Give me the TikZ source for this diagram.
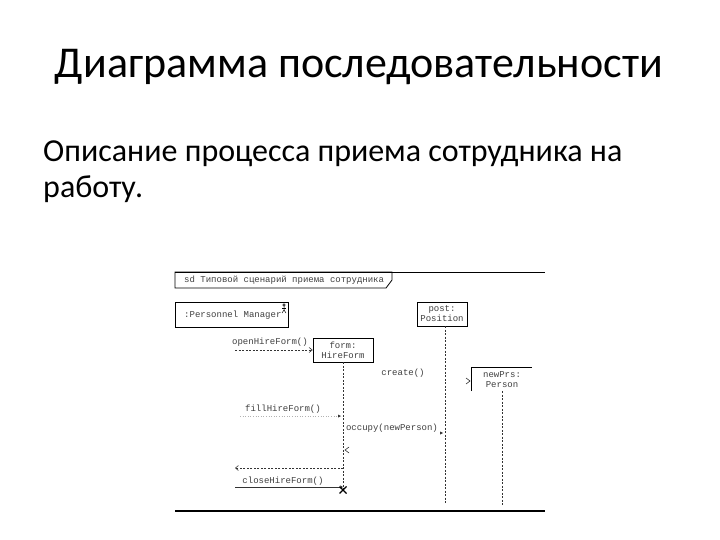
\documentclass[tikz,border=0pt]{standalone}
\usepackage{fontspec}
\setmainfont{Carlito}
\newfontfamily\umlfont{Liberation Mono}
\usetikzlibrary{arrows.meta,calc}
\begin{document}
\begin{tikzpicture}[x=1pt,y=-1pt,
  umltext/.style={font=\umlfont\fontsize{9}{10}\selectfont, text=black!75, inner sep=0pt, align=center},
  objbox/.style={draw=black, line width=0.8pt},
  lifeline/.style={draw=black!80, dashed, dash pattern=on 2pt off 1.5pt, line width=0.6pt},
  msg/.style={draw=black!80, line width=0.6pt},
  tipopen/.style={-{Straight Barb[length=3pt,width=5pt]}},
  tipfill/.style={-{Stealth[length=3pt,width=3pt]}}
]
\useasboundingbox (0,0) rectangle (720,540);
\fill[white] (0,0) rectangle (720,540);

% Title and body text
\node[anchor=base, font=\fontsize{44}{53}\selectfont, inner sep=0pt] (title) at (359,78) {Диаграмма последовательности};
\node[anchor=base west, font=\fontsize{32}{38}\selectfont, inner sep=0pt, align=left] (body1) at (43,162) {Описание процесса приема сотрудника на};
\node[anchor=base west, font=\fontsize{32}{38}\selectfont, inner sep=0pt, align=left] (body2) at (43,197) {работу.};

% Frame
\draw[line width=0.8pt] (175,272) -- (545,272);
\draw[line width=0.8pt] (175,272) -- (392,272) -- (392,280) -- (386,288) -- (175,288) -- cycle;
\node[umltext, anchor=west] (sdlabel) at (184,280.5) {sd Типовой сценарий приема сотрудника};
\draw[line width=1.1pt] (175,511) -- (545,511);

% Objects
\draw[objbox] (175,302) rectangle (288,327);
\node[umltext, anchor=west] (pm) at (184,315) {:Personnel Manager};
\coordinate (actor) at (284,309);
\draw[line width=0.5pt] (actor) ++(0,-4) circle (1.2pt);
\draw[line width=0.5pt] (actor) ++(0,-3) -- ++(0,4) -- ++(-2,3);
\draw[line width=0.5pt] (actor) ++(0,1) -- ++(2,3);
\draw[line width=0.5pt] (actor) ++(-2,-1) -- ++(4,0);

\node[objbox, umltext, minimum width=50pt, minimum height=24pt] (post) at (442,314) {post:\\Position};
\node[objbox, umltext, minimum width=60pt, minimum height=24pt] (form) at (343,350) {form:\\HireForm};
\node[umltext, minimum width=60pt, minimum height=23pt] (newprs) at (502,379.5) {newPrs:\\Person};
\draw[objbox] (newprs.south west) -- (newprs.north west) -- (newprs.north east);

% Lifelines
\coordinate (postend) at (445,503);
\coordinate (formend) at (343,490);
\coordinate (newend) at (502,505);
\draw[lifeline] (445,326) -- (postend);
\draw[lifeline] (form.south) -- (formend);
\draw[lifeline] (newprs.south) -- (newend);

% Messages
\coordinate (oStart) at (235,350);
\draw[msg, dashed, dash pattern=on 2pt off 1.5pt, tipopen] (oStart) -- (form.west |- oStart);
\node[umltext] (openlbl) at (270,342) {openHireForm()};

\node[umltext] (createlbl) at (403,373) {create()};
\coordinate (createTip) at (470,381);
\draw[msg] ($(createTip)+(-4,-3)$) -- (createTip) -- ($(createTip)+(-4,3)$);

\coordinate (fStart) at (240,416);
\coordinate (fEnd) at (341,416);
\draw[draw=black!30, dotted, line width=0.6pt] (fStart) -- (fEnd);
\fill[black!80] (fEnd) -- ++(-3,-1.5) -- ++(0,3) -- cycle;
\node[umltext] (filllbl) at (283,409) {fillHireForm()};

\node[umltext] (occlbl) at (392,428) {occupy(newPerson)};
\coordinate (occTip) at (443,433);
\fill[black!80] (occTip) -- ++(-3,-1.5) -- ++(0,3) -- cycle;

\coordinate (retTip) at (345,450);
\draw[msg] ($(retTip)+(4,-3)$) -- (retTip) -- ($(retTip)+(4,3)$);

\coordinate (rStart) at (343,468);
\coordinate (rEnd) at (235,468);
\draw[msg, dashed, dash pattern=on 2pt off 1.5pt, tipopen] (rStart) -- (rEnd);

\coordinate (cStart) at (235,487);
\draw[msg, line width=0.7pt, tipfill] (cStart) -- (formend |- cStart);
\node[umltext] (closelbl) at (283,481) {closeHireForm()};

% Destruction
\draw[line width=1.2pt] ($(formend)+(-3.5,-3.5)$) -- ($(formend)+(3.5,3.5)$);
\draw[line width=1.2pt] ($(formend)+(-3.5,3.5)$) -- ($(formend)+(3.5,-3.5)$);
\end{tikzpicture}
\end{document}
